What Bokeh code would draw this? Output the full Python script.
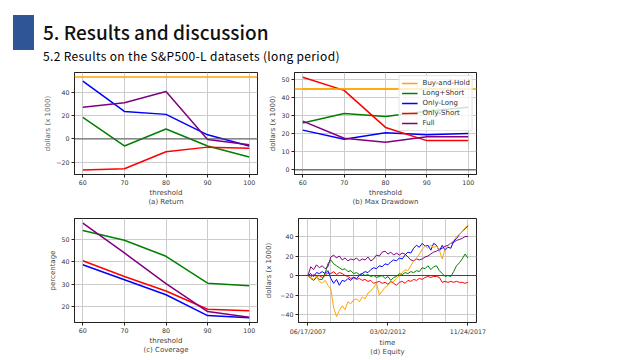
from bokeh.plotting import figure
from bokeh.models import FixedTicker, Span, Range1d, Div, Legend, LegendItem
from bokeh.layouts import column, row
from bokeh.embed import file_html
from bokeh.resources import INLINE

# ---------------- data ----------------
thresholds = [60, 70, 80, 90, 100]
threshold_ticks = [60, 70, 80, 90, 100]

# (a) Return, dollars (x 1000)
ret_bh = 53.0
ret_long_short = [18.5, -6.0, 8.5, -6.0, -15.5]
ret_only_long = [49.5, 23.5, 21.0, 3.5, -6.0]
ret_only_short = [-26.5, -25.5, -11.0, -7.0, -8.0]
ret_full = [27.0, 31.0, 40.5, -0.5, -5.0]
ret_yticks = [-20, 0, 20, 40]

# (b) Max drawdown, dollars (x 1000)
mdd_bh = 44.7
mdd_long_short = [26.0, 31.2, 29.5, 32.4, 34.7]
mdd_only_long = [22.0, 17.0, 20.5, 19.5, 20.2]
mdd_only_short = [51.3, 44.0, 23.5, 16.2, 16.2]
mdd_full = [27.0, 17.5, 15.3, 18.3, 18.3]
mdd_yticks = [0, 10, 20, 30, 40, 50]

# (c) Coverage, percentage
cov_long_short = [54.0, 49.7, 42.5, 30.5, 29.3]
cov_only_long = [38.7, 32.0, 25.3, 16.0, 15.0]
cov_only_short = [40.5, 33.5, 27.0, 18.8, 18.2]
cov_full = [57.3, 44.0, 30.3, 17.8, 15.3]
cov_yticks = [20, 30, 40, 50]

# (d) Equity, dollars (x 1000), sampled along time
eq_bh = [0, -2, -4, -1, -6, -8, -5, -10,
         -14, -33, -42, -36, -31, -35, -27, -29,
         -25, -24, -27, -22, -24, -18, -16, -12,
         -8, -20, -16, -12, -10, -7, -6, -3,
         0, 3, 6, 5, 10, 15, 18, 22,
         27, 30, 28, 31, 29, 30, 26, 17,
         27, 30, 33, 36, 40, 42, 45, 49,
         52]
eq_only_long = [0, 2, -1, 3, 2, 4, 2, 5,
                -3, -8, -4, -10, -5, -6, -3, -5,
                -2, -3, 0, 2, 4, 3, 6, 8,
                7, 10, 9, 12, 11, 14, 16, 15,
                18, 17, 21, 24, 23, 28, 31, 29,
                33, 30, 31, 26, 33, 31, 25, 31,
                26, 29, 28, 35, 38, 42, 45, 48,
                51]
eq_full = [0, 9, 6, 11, 8, 10, 7, 9,
           19, 21, 18, 20, 16, 18, 15, 17,
           16, 18, 15, 17, 16, 19, 15, 17,
           21, 20, 24, 25, 22, 24, 21, 23,
           21, 23, 22, 19, 16, 15, 17, 16,
           17, 19, 20, 22, 24, 25, 27, 28,
           30, 31, 33, 34, 36, 37, 38, 40,
           40]
eq_long_short = [0, -3, -5, -2, -4, -4, 2, 12,
                 16, 12, 10, 8, 6, 7, 4, 5,
                 2, 3, 1, 2, 0, 1, -1, 0,
                 -2, -1, 0, -3, -1, -5, -2, -1,
                 2, 1, 3, 2, 4, 3, 5, 4,
                 8, 7, 10, 6, 9, 10, 5, 2,
                 -1, 0, -1, 4, 10, 13, 17, 22,
                 18]
eq_only_short = [0, -2, 1, -1, 0, -2, 0, 3,
                 2, 4, 1, 3, 2, 0, -1, -3,
                 -2, -4, -3, -5, -4, -6, -5, -8,
                 -7, -6, -8, -7, -9, -6, -8, -10,
                 -7, -6, -8, -5, -6, -4, -5, -3,
                 -4, -2, -1, -2, -1, -1, -2, -7,
                 -6, -7, -6, -7, -6, -7, -7, -8,
                 -7]
eq_tick_labels = ["06/17/2007", "03/02/2012", "11/24/2017"]
eq_yticks = [-40, -20, 0, 20, 40]

series_names = ["Buy-and-Hold", "Long+Short", "Only-Long", "Only-Short", "Full"]
C_BH, C_LS, C_OL, C_OS, C_FU = "#FFA500", "#008000", "#0000FF", "#FF0000", "#800080"

FONT = "DejaVu Sans"
AX = "#222222"


def minus(v):
    return ("\u2212" + str(abs(v))) if v < 0 else str(v)


def make_fig(w, h, xr, yr, bl, br, bt, bb, xticks, yticks, xlabel, ylabel):
    p = figure(width=w, height=h, x_range=xr, y_range=yr,
               output_backend="svg", toolbar_location=None,
               min_border_left=bl, min_border_right=br,
               min_border_top=bt, min_border_bottom=bb)
    p.background_fill_color = "white"
    p.border_fill_color = "white"
    p.outline_line_color = AX
    p.outline_line_width = 1
    p.xaxis.ticker = FixedTicker(ticks=xticks)
    p.yaxis.ticker = FixedTicker(ticks=yticks)
    p.yaxis.major_label_overrides = {t: minus(t) for t in yticks}
    for ax in p.axis:
        ax.axis_line_color = AX
        ax.major_tick_line_color = AX
        ax.major_tick_out = 3
        ax.major_tick_in = 0
        ax.minor_tick_line_color = None
        ax.major_label_text_font = FONT
        ax.major_label_text_font_size = "6.3px"
        ax.major_label_text_color = "#333333"
        ax.major_label_standoff = 2
        ax.axis_label_text_font = FONT
        ax.axis_label_text_font_size = "7px"
        ax.axis_label_text_font_style = "normal"
        ax.axis_label_text_color = "#444444"
    p.xaxis.axis_label = xlabel
    p.yaxis.axis_label = ylabel
    p.xaxis.axis_label_standoff = 1
    p.yaxis.axis_label_standoff = 1
    p.grid.grid_line_color = "#cccccc"
    p.grid.grid_line_width = 1
    return p


LW = 1.5

# (a) Return
pa = make_fig(262, 144, Range1d(58, 102), Range1d(-30.4, 56.8), 74, 5, 7, 29,
              threshold_ticks, ret_yticks, "threshold\n(a) Return", "dollars (x 1000)")
pa.yaxis.axis_label_text_color = "#666666"
pa.add_layout(Span(location=0, dimension="width", line_color="#555555", line_width=1))
pa.add_layout(Span(location=ret_bh, dimension="width", line_color=C_BH, line_width=LW))
pa.line(thresholds, ret_long_short, line_color=C_LS, line_width=LW)
pa.line(thresholds, ret_only_long, line_color=C_OL, line_width=LW)
pa.line(thresholds, ret_only_short, line_color=C_OS, line_width=LW)
pa.line(thresholds, ret_full, line_color=C_FU, line_width=LW)

# (b) Max Drawdown
pb = make_fig(378, 144, Range1d(58, 102), Range1d(-2.56, 53.9), 32, 164, 7, 29,
              threshold_ticks, mdd_yticks, "threshold\n(b) Max Drawdown", "dollars (x 1000)")
pb.add_layout(Span(location=0, dimension="width", line_color="#444444", line_width=1))
pb.add_layout(Span(location=mdd_bh, dimension="width", line_color=C_BH, line_width=LW))
rb0 = pb.line(thresholds, [mdd_bh] * len(thresholds), line_color=C_BH, line_width=LW)
rb1 = pb.line(thresholds, mdd_long_short, line_color=C_LS, line_width=LW)
rb2 = pb.line(thresholds, mdd_only_long, line_color=C_OL, line_width=LW)
rb3 = pb.line(thresholds, mdd_only_short, line_color=C_OS, line_width=LW)
rb4 = pb.line(thresholds, mdd_full, line_color=C_FU, line_width=LW)
legend = Legend(items=[LegendItem(label=n, renderers=[r]) for n, r in
                       zip(series_names, [rb0, rb1, rb2, rb3, rb4])],
                location="top_right", margin=3, padding=2, spacing=0,
                label_height=10, glyph_height=10, glyph_width=16, label_standoff=5,
                label_text_font=FONT, label_text_font_size="7px", label_text_color="#333333",
                background_fill_alpha=0.8, border_line_color="#cccccc", border_line_width=1)
pb.add_layout(legend)

# (c) Coverage
pc = make_fig(262, 150, Range1d(58, 102), Range1d(12.9, 59.4), 74, 5, 8, 33,
              threshold_ticks, cov_yticks, "threshold\n(c) Coverage", "percentage")
pc.line(thresholds, cov_long_short, line_color=C_LS, line_width=LW)
pc.line(thresholds, cov_only_short, line_color=C_OS, line_width=LW)
pc.line(thresholds, cov_only_long, line_color=C_OL, line_width=LW)
pc.line(thresholds, cov_full, line_color=C_FU, line_width=LW)

# (d) Equity
steps = list(range(len(eq_bh)))
n_last = steps[-1]
eq_ticks = [steps[0], n_last // 2, n_last]
pd_ = make_fig(378, 150, Range1d(-3.3, 59.0), Range1d(-48.2, 58.5), 31, 164, 9, 33,
               eq_ticks, eq_yticks, "time\n(d) Equity", "dollars (x 1000)")
pd_.xaxis.major_label_overrides = {t: l for t, l in zip(eq_ticks, eq_tick_labels)}
pd_.xgrid.ticker = FixedTicker(ticks=steps[::8])
pd_.yaxis.axis_label_standoff = 4
pd_.add_layout(Span(location=0, dimension="width", line_color="#444444", line_width=1))
ELW = 1.0
pd_.line(steps, eq_long_short, line_color=C_LS, line_width=ELW)
pd_.line(steps, eq_only_short, line_color=C_OS, line_width=ELW)
pd_.line(steps, eq_full, line_color=C_FU, line_width=ELW)
pd_.line(steps, eq_only_long, line_color=C_OL, line_width=ELW)
pd_.line(steps, eq_bh, line_color=C_BH, line_width=ELW)

# ---------------- header ----------------
header_html = """
<div style="position:relative;width:640px;height:65px;margin:0;padding:0;">
  <div style="position:absolute;left:13px;top:15px;width:21px;height:35px;background:#2F5597;"></div>
  <div style="position:absolute;left:43px;top:21.5px;font-family:'Noto Sans CJK KR';font-size:19px;
              font-weight:500;line-height:1;color:#111;white-space:nowrap;">5. Results and discussion</div>
  <div style="position:absolute;left:43px;top:50px;font-family:'Noto Sans CJK KR';font-size:12px;
              font-weight:400;letter-spacing:0.35px;line-height:1;color:#000;white-space:nowrap;">5.2 Results on the S&amp;P500-L datasets (long period)</div>
</div>
"""
header = Div(text=header_html, width=640, height=65, margin=0)

layout = column(header, row(pa, pb, spacing=0), row(pc, pd_, spacing=0), spacing=0)

with open("out.html", "w") as f:
    f.write(file_html(layout, INLINE))
